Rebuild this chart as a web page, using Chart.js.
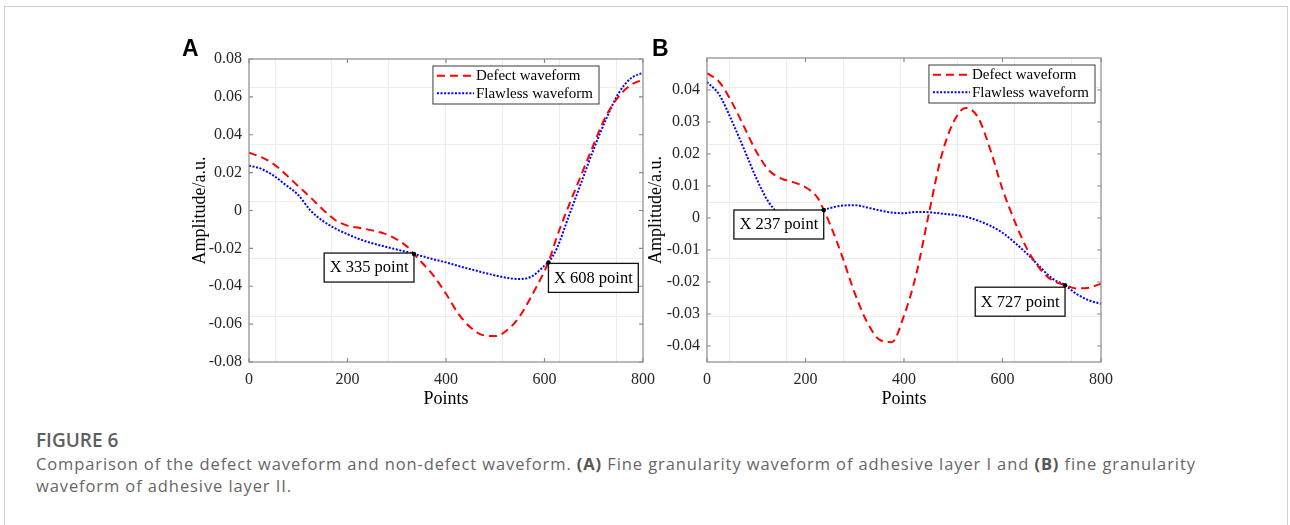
<!DOCTYPE html>
<html>
<head>
<meta charset="utf-8">
<script src="https://cdn.jsdelivr.net/npm/chart.js@4.4.1/dist/chart.umd.min.js"></script>
<style>
  body { margin: 0; background: #fff; width: 1290px; height: 525px; overflow: hidden; position: relative; }
  .marco { position: absolute; left: 4px; top: 6px; width: 1282px; height: 600px; border: 1px solid #d0d0d0; }
  canvas { position: absolute; }
  .letra { position: absolute; font: bold 23px "Liberation Sans", Arial, sans-serif; line-height: 23px; color: #000; }
  .pie { position: absolute; left: 36px; font-family: "Open Sans", sans-serif; color: #666; white-space: nowrap; }
  .pie b { color: #555; }
</style>
</head>
<body>
<div class="marco"></div>
<canvas id="graficoA" width="520" height="400" style="left:150px;top:20px"></canvas>
<canvas id="graficoB" width="520" height="400" style="left:610px;top:20px"></canvas>
<div class="letra" style="left:182px;top:37px">A</div>
<div class="letra" style="left:652px;top:37px">B</div>
<div class="pie" style="top:431px;font-size:19px;line-height:19px;font-weight:600;color:#5f5f5f">FIGURE 6</div>
<div class="pie" style="top:452.5px;font-size:16.5px;line-height:22.3px;letter-spacing:0.9px">Comparison of the defect waveform and non-defect waveform. <b>(A)</b> Fine granularity waveform of adhesive layer I and <b>(B)</b> fine granularity<br>waveform of adhesive layer II.</div>

<script>
// Datos de las dos señales (capa adhesiva I y II)
const puntosA = [0, 25, 50, 75, 100, 125, 150, 175, 200, 225, 250, 275, 300, 325, 335, 350, 375, 400, 425, 450, 475, 500, 525, 550, 575, 600, 608, 625, 650, 675, 700, 725, 750, 775, 800];
const defectoA = [0.0305, 0.0282, 0.0245, 0.0190, 0.0128, 0.0069, 0.0005, -0.0050, -0.0080, -0.0092, -0.0105, -0.0122, -0.0152, -0.0200, -0.0230, -0.0272, -0.0345, -0.0440, -0.0545, -0.0618, -0.0658, -0.0663, -0.0630, -0.0558, -0.0445, -0.0320, -0.0274, -0.0140, 0.0030, 0.0190, 0.0350, 0.0500, 0.0600, 0.0662, 0.0692];
const sinDefectoA = [0.0237, 0.0220, 0.0184, 0.0134, 0.0082, 0.0000, -0.0055, -0.0095, -0.0125, -0.0152, -0.0173, -0.0190, -0.0206, -0.0222, -0.0230, -0.0240, -0.0258, -0.0274, -0.0293, -0.0310, -0.0327, -0.0343, -0.0356, -0.0362, -0.0347, -0.0292, -0.0274, -0.0200, -0.0025, 0.0150, 0.0325, 0.0482, 0.0617, 0.0697, 0.0728];

const puntosB = [0, 25, 50, 75, 100, 125, 150, 175, 200, 225, 237, 250, 275, 300, 325, 350, 375, 400, 425, 450, 475, 500, 525, 550, 575, 600, 625, 650, 675, 700, 727, 750, 775, 800];
const defectoB = [0.0453, 0.0425, 0.0363, 0.0286, 0.0208, 0.0150, 0.0124, 0.0112, 0.0096, 0.0062, 0.0025, -0.0020, -0.0122, -0.0235, -0.0325, -0.0380, -0.0388, -0.0305, -0.0175, 0.0010, 0.0188, 0.0298, 0.0344, 0.0315, 0.0215, 0.0090, -0.0011, -0.0097, -0.0157, -0.0194, -0.0210, -0.0220, -0.0218, -0.0205];
const sinDefectoB = [0.0425, 0.0385, 0.0305, 0.0216, 0.0125, 0.0050, 0.0010, 0.0002, 0.0006, 0.0016, 0.0025, 0.0031, 0.0039, 0.0040, 0.0033, 0.0024, 0.0017, 0.0015, 0.0019, 0.0018, 0.0014, 0.0010, 0.0004, -0.0008, -0.0024, -0.0046, -0.0077, -0.0112, -0.0151, -0.0188, -0.0210, -0.0237, -0.0257, -0.0268];

// puntos marcados con cuadro de texto
const marcasA = [335, 608];
const marcasB = [237, 727];

const ticksX = [0, 200, 400, 600, 800];
const ticksYA = [-0.08, -0.06, -0.04, -0.02, 0, 0.02, 0.04, 0.06, 0.08];
const ticksYB = [-0.04, -0.03, -0.02, -0.01, 0, 0.01, 0.02, 0.03, 0.04];

// rejilla clara de fondo
const rejillaXA = [52.8, 168.3, 283.7, 399.2, 514.6, 630.1, 745.6];
const rejillaYA = [0.0648, 0.0346, 0.0045, -0.0256, -0.0561];
const rejillaXB = [46.5, 161.8, 277.4, 392.9, 508.3, 623.8, 739.3];
const rejillaYB = [0.0408, 0.0229, 0.0050, -0.0128, -0.0308];

Chart.defaults.font.family = '"Liberation Serif", "Times New Roman", serif';
Chart.defaults.color = '#262626';

// marco de ejes con marcas hacia dentro
const cajaEjes = {
    id: 'cajaEjes',
    afterDatasetsDraw(chart) {
        const { ctx, chartArea: a, scales: { x, y } } = chart;
        ctx.save();
        ctx.strokeStyle = '#8a8a8a';
        ctx.lineWidth = 1.2;
        ctx.strokeRect(a.left, a.top, a.width, a.height);
        ctx.beginPath();
        x.ticks.forEach(t => {
            const px = x.getPixelForValue(t.value);
            ctx.moveTo(px, a.bottom); ctx.lineTo(px, a.bottom - 4);
            ctx.moveTo(px, a.top); ctx.lineTo(px, a.top + 4);
        });
        y.ticks.forEach(t => {
            const py = y.getPixelForValue(t.value);
            ctx.moveTo(a.left, py); ctx.lineTo(a.left + 4, py);
            ctx.moveTo(a.right, py); ctx.lineTo(a.right - 4, py);
        });
        ctx.stroke();
        ctx.restore();
    }
};

// cuadros "X ... point" sobre la curva
const cuadrosPunto = {
    id: 'cuadrosPunto',
    afterDatasetsDraw(chart, args, opts) {
        const { ctx, scales: { x, y } } = chart;
        const serie = chart.data.datasets[0].data;
        ctx.save();
        ctx.font = '16.5px "Liberation Serif"';
        ctx.textBaseline = 'middle';
        ctx.textAlign = 'center';
        opts.marcas.forEach(m => {
            const p = serie.find(d => d.x === m.x);
            const px = x.getPixelForValue(p.x);
            const py = y.getPixelForValue(p.y);
            const texto = 'X ' + p.x + ' point';
            const w = ctx.measureText(texto).width + 11;
            const h = 29;
            const bx = m.lado === 'izq' ? px - w : px;
            const by = py + m.dy;
            ctx.fillStyle = '#fff';
            ctx.fillRect(bx, by, w, h);
            ctx.strokeStyle = '#111';
            ctx.lineWidth = 1.3;
            ctx.strokeRect(bx, by, w, h);
            ctx.fillStyle = '#000';
            ctx.fillText(texto, bx + w / 2, by + h / 2 + 0.5);
            ctx.beginPath();
            ctx.arc(px, py, 2.2, 0, Math.PI * 2);
            ctx.fill();
        });
        ctx.restore();
    }
};

// leyenda dentro del area de trazado
const leyendaCaja = {
    id: 'leyendaCaja',
    afterDatasetsDraw(chart, args, opts) {
        const { ctx, chartArea: a } = chart;
        const sets = chart.data.datasets;
        ctx.save();
        ctx.font = '15px "Liberation Serif"';
        const anchoTexto = Math.max(...sets.map(d => ctx.measureText(d.label).width));
        const w = 43 + anchoTexto + 6;
        const h = 38;
        const bx = a.right - opts.derecha - w;
        const by = a.top + 7;
        ctx.fillStyle = '#fff';
        ctx.fillRect(bx, by, w, h);
        ctx.strokeStyle = '#3a3a3a';
        ctx.lineWidth = 1;
        ctx.strokeRect(bx, by, w, h);
        ctx.textBaseline = 'middle';
        sets.forEach((d, i) => {
            const ly = by + 9.7 + i * 17.6;
            ctx.strokeStyle = d.borderColor;
            ctx.lineWidth = d.borderWidth;
            ctx.setLineDash(d.borderDash);
            ctx.beginPath();
            ctx.moveTo(bx + 4, ly);
            ctx.lineTo(bx + 41, ly);
            ctx.stroke();
            ctx.setLineDash([]);
            ctx.fillStyle = '#000';
            ctx.fillText(d.label, bx + 43, ly + 0.5);
        });
        ctx.restore();
    }
};

const fijarTicks = valores => s => { s.ticks = valores.map(v => ({ value: v })); };
const etiqueta = v => v === 0 ? '0' : v.toFixed(2);

function crearGrafico(id, puntos, defecto, sinDefecto, marcas, c) {
    const ctx = document.getElementById(id).getContext('2d');
    return new Chart(ctx, {
        type: 'line',
        data: {
            datasets: [{
                label: 'Defect waveform',
                data: puntos.map((x, i) => ({ x, y: defecto[i] })),
                borderColor: '#ff0000',
                borderWidth: 2,
                borderDash: [8, 5],
                pointRadius: 0,
                cubicInterpolationMode: 'monotone'
            }, {
                label: 'Flawless waveform',
                data: puntos.map((x, i) => ({ x, y: sinDefecto[i] })),
                borderColor: '#0000ff',
                borderWidth: 2,
                borderDash: [2, 1.6],
                pointRadius: 0,
                cubicInterpolationMode: 'monotone'
            }]
        },
        options: {
            responsive: false,
            animation: false,
            devicePixelRatio: 1,
            layout: { padding: { top: c.arriba, right: c.derecha, left: 0, bottom: 0 } },
            plugins: {
                legend: { display: false },
                tooltip: { enabled: false },
                cuadrosPunto: { marcas: marcas },
                leyendaCaja: { derecha: c.leyenda }
            },
            scales: {
                x: {
                    type: 'linear', min: 0, max: 800,
                    afterBuildTicks: fijarTicks(ticksX),
                    grid: { display: false, drawTicks: false },
                    border: { display: false },
                    ticks: { padding: 8, font: { size: 16 } },
                    title: { display: true, text: 'Points', color: '#000', font: { size: 18 }, padding: { top: 0, bottom: 10 } },
                    afterFit: s => { s.height = 58; s.paddingLeft = 0; s.paddingRight = 0; }
                },
                y: {
                    type: 'linear', min: c.yMin, max: c.yMax,
                    afterBuildTicks: fijarTicks(c.ticksY),
                    grid: { display: false, drawTicks: false },
                    border: { display: false },
                    ticks: { padding: 7, font: { size: 16 }, callback: etiqueta },
                    title: { display: true, text: 'Amplitude/a.u.', color: '#000', font: { size: 18 }, padding: { top: c.titulo, bottom: 0 } },
                    afterFit: s => { s.width = c.anchoY; s.paddingTop = 0; s.paddingBottom = 0; }
                },
                gx: {
                    type: 'linear', axis: 'x', position: 'top', min: 0, max: 800,
                    afterBuildTicks: fijarTicks(c.rejX),
                    grid: { color: '#ececec', drawTicks: false },
                    border: { display: false },
                    ticks: { display: false },
                    afterFit: s => { s.height = 0; s.paddingLeft = 0; s.paddingRight = 0; }
                },
                gy: {
                    type: 'linear', axis: 'y', position: 'right', min: c.yMin, max: c.yMax,
                    afterBuildTicks: fijarTicks(c.rejY),
                    grid: { color: '#ececec', drawTicks: false },
                    border: { display: false },
                    ticks: { display: false },
                    afterFit: s => { s.width = 0; s.paddingTop = 0; s.paddingBottom = 0; }
                }
            }
        },
        plugins: [cajaEjes, cuadrosPunto, leyendaCaja]
    });
}

crearGrafico('graficoA', puntosA, defectoA, sinDefectoA,
    [{ x: marcasA[0], lado: 'izq', dy: -1 }, { x: marcasA[1], lado: 'der', dy: 1 }],
    { yMin: -0.08, yMax: 0.08, ticksY: ticksYA, rejX: rejillaXA, rejY: rejillaYA, arriba: 39, derecha: 27, anchoY: 99, titulo: 39, leyenda: 44 });

crearGrafico('graficoB', puntosB, defectoB, sinDefectoB,
    [{ x: marcasB[0], lado: 'izq', dy: 0 }, { x: marcasB[1], lado: 'izq', dy: 2 }],
    { yMin: -0.045, yMax: 0.05, ticksY: ticksYB, rejX: rejillaXB, rejY: rejillaYB, arriba: 38, derecha: 29, anchoY: 97, titulo: 35, leyenda: 6 });
</script>
</body>
</html>
